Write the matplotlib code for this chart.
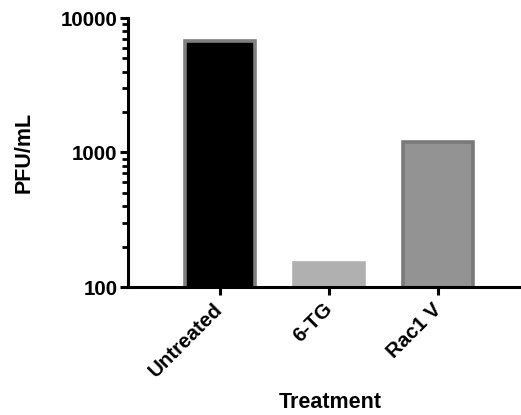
import matplotlib
matplotlib.use("Agg")
import matplotlib.pyplot as plt
from matplotlib.ticker import LogLocator, NullFormatter, FixedLocator, FixedFormatter

categories = ["Untreated", "6-TG", "Rac1 V"]
values = [6800, 150, 1200]
fill_colors = ["#000000", "#b0b0b0", "#939393"]
edge_colors = ["#7f7f7f", "#b0b0b0", "#7a7a7a"]
ytick_values = [100, 1000, 10000]
ytick_labels = ["100", "1000", "10000"]

plt.rcParams['font.family'] = ['Liberation Sans', 'DejaVu Sans']
plt.rcParams['font.weight'] = 'bold'

fig = plt.figure(figsize=(5.21, 4.15), dpi=100)
ax = fig.add_axes([128/521, 1 - 287/415, (521-128)/521, (287-18)/415])

x = list(range(len(categories)))
ax.bar(x, values, width=0.64, color=fill_colors, edgecolor=edge_colors,
       linewidth=2.6, bottom=0, zorder=2)

ax.set_yscale('log')
ax.set_ylim(100, 10000)
ax.set_xlim(-0.84, 2.755)

ax.yaxis.set_major_locator(FixedLocator(ytick_values))
ax.yaxis.set_major_formatter(FixedFormatter(ytick_labels))
ax.yaxis.set_minor_locator(LogLocator(base=10, subs=range(2, 10), numticks=20))
ax.yaxis.set_minor_formatter(NullFormatter())

ax.set_xticks(x)
ax.set_xticklabels(categories, rotation=45, ha='right', va='center',
                   rotation_mode='anchor', fontsize=14.8, fontweight='bold')
for lab in ax.get_yticklabels():
    lab.set_fontsize(14.8)
    lab.set_fontweight('bold')

for s in ['top', 'right']:
    ax.spines[s].set_visible(False)
for s in ['left', 'bottom']:
    ax.spines[s].set_linewidth(2.2)
    ax.spines[s].set_zorder(3)

ax.tick_params(axis='y', which='major', length=6, width=2.2, pad=1.5, direction='out')
ax.tick_params(axis='y', which='minor', length=4, width=2.0, direction='out')
ax.tick_params(axis='x', which='major', length=6, width=2.2, pad=8, direction='out')

ax.set_ylabel("PFU/mL", fontsize=15.5, fontweight='bold')
ax.yaxis.label.set_verticalalignment('center')
ax.yaxis.set_label_coords(-0.2646, 0.5)

ax.set_xlabel("Treatment", fontsize=15.5, fontweight='bold')
ax.xaxis.label.set_verticalalignment('center')
ax.xaxis.set_label_coords((330 - 128) / 393, -(402 - 287) / 269)

fig.savefig("out.png", dpi=100)
